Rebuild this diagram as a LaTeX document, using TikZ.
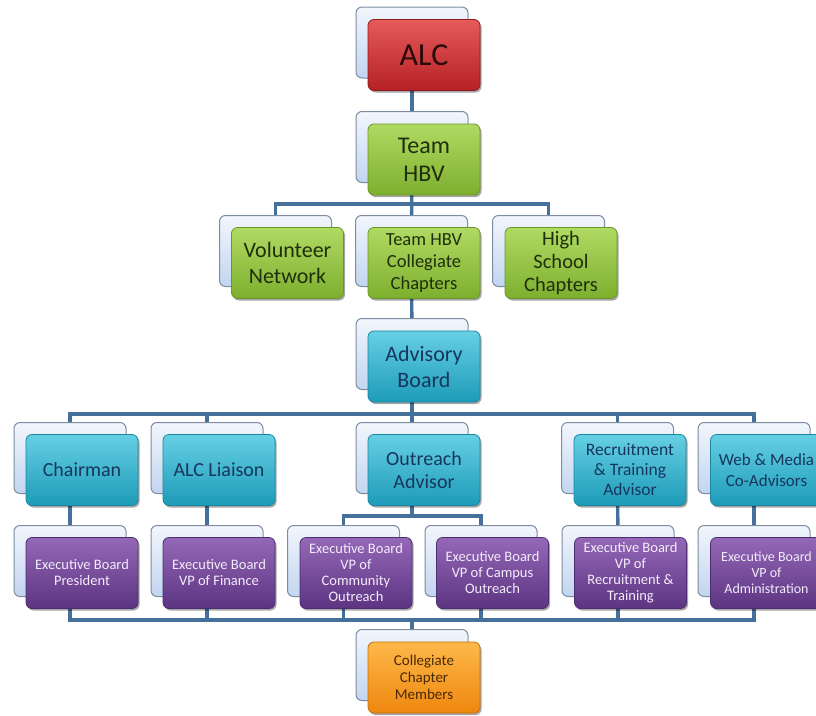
\documentclass[tikz,border=0pt]{standalone}
\usepackage{fontspec}
\setmainfont{Carlito}
\usetikzlibrary{shadows}
\pgfdeclarelayer{bg}
\pgfsetlayers{bg,main}
\definecolor{connc}{HTML}{46709C}
\definecolor{backtop}{HTML}{F2F6FC}
\definecolor{backbot}{HTML}{C2D5F0}
\definecolor{backedge}{HTML}{7D8CA3}
\definecolor{redtop}{HTML}{E65A5A}
\definecolor{redbot}{HTML}{B52126}
\definecolor{rededge}{HTML}{8E1A1E}
\definecolor{redtxt}{HTML}{2B0A0A}
\definecolor{greentop}{HTML}{B0DA62}
\definecolor{greenbot}{HTML}{7DAF2E}
\definecolor{greenedge}{HTML}{6A9628}
\definecolor{greentxt}{HTML}{1F2E0C}
\definecolor{tealtop}{HTML}{66CFE4}
\definecolor{tealbot}{HTML}{1D9BB8}
\definecolor{tealedge}{HTML}{1A87A2}
\definecolor{tealtxt}{HTML}{17365D}
\definecolor{purptop}{HTML}{9468B6}
\definecolor{purpbot}{HTML}{5C3482}
\definecolor{purpedge}{HTML}{4E2C70}
\definecolor{purptxt}{HTML}{F3ECFA}
\definecolor{orantop}{HTML}{FDB84A}
\definecolor{oranbot}{HTML}{EF870E}
\definecolor{oranedge}{HTML}{C9700B}
\definecolor{orantxt}{HTML}{4A2A05}
\begin{document}
\begin{tikzpicture}[x=1pt,y=-1pt,
  backbox/.style={draw=backedge, line width=1pt, rounded corners=6pt,
    minimum width=112pt, minimum height=71pt, inner sep=0pt,
    top color=backtop, bottom color=backbot},
  frontbox/.style={rounded corners=6pt, minimum width=112pt, minimum height=71pt,
    inner sep=0pt, align=center, line width=0.8pt,
    drop shadow={shadow xshift=1.5pt, shadow yshift=-2pt, opacity=0.35, fill=black}},
  redbox/.style={frontbox, draw=rededge, top color=redtop, bottom color=redbot, text=redtxt},
  greenbox/.style={frontbox, draw=greenedge, top color=greentop, bottom color=greenbot, text=greentxt},
  tealbox/.style={frontbox, draw=tealedge, top color=tealtop, bottom color=tealbot, text=tealtxt},
  purpbox/.style={frontbox, draw=purpedge, top color=purptop, bottom color=purpbot, text=purptxt,
    font=\fontsize{14.5}{16}\selectfont},
  oranbox/.style={frontbox, draw=oranedge, top color=orantop, bottom color=oranbot, text=orantxt,
    font=\fontsize{15}{17}\selectfont},
  conn/.style={draw=connc, line width=3.4pt}
]
\useasboundingbox (0,0) rectangle (816,715);
% back boxes
\node[backbox] (alcB) at (412,42.5) {};
\node[backbox] (hbvB) at (412,147) {};
\node[backbox] (volB) at (275.5,251) {};
\node[backbox] (collB) at (411.5,251) {};
\node[backbox] (hsB) at (548.5,251) {};
\node[backbox] (advB) at (412,354) {};
\node[backbox] (chairB) at (70,458) {};
\node[backbox] (liaisonB) at (207,458) {};
\node[backbox] (outB) at (412,458) {};
\node[backbox] (recB) at (617.5,458) {};
\node[backbox] (webB) at (754,458) {};
\node[backbox] (presB) at (70,561) {};
\node[backbox] (finB) at (207,561) {};
\node[backbox] (commB) at (343.5,561) {};
\node[backbox] (campB) at (481,561) {};
\node[backbox] (rtrB) at (618,561) {};
\node[backbox] (adminB) at (754,561) {};
\node[backbox] (memB) at (412,665) {};
% bus coordinates
\coordinate (bus1) at (0,204);
\coordinate (bus2) at (0,414);
\coordinate (bus3) at (0,516);
\coordinate (bus4) at (0,620);
% front boxes
\node[redbox, font=\fontsize{32}{36}\selectfont] (alc) at ([shift={(12,12.5)}]alcB.center) {ALC};
\node[greenbox, font=\fontsize{24}{28}\selectfont] (hbv) at ([shift={(12,12.5)}]hbvB.center) {Team\\HBV};
\node[greenbox, font=\fontsize{22}{26}\selectfont] (vol) at ([shift={(12,12)}]volB.center) {Volunteer\\Network};
\node[greenbox, font=\fontsize{18.5}{22}\selectfont] (coll) at ([shift={(12.5,12)}]collB.center) {Team HBV\\Collegiate\\Chapters};
\node[greenbox, font=\fontsize{20.5}{23}\selectfont] (hs) at ([shift={(12.5,12)}]hsB.center) {High\\School\\Chapters};
\node[tealbox, font=\fontsize{22}{26}\selectfont] (adv) at ([shift={(12,12.5)}]advB.center) {Advisory\\Board};
\node[tealbox, font=\fontsize{20}{24}\selectfont] (chair) at ([shift={(12,12)}]chairB.center) {Chairman};
\node[tealbox, font=\fontsize{20}{24}\selectfont] (liaison) at ([shift={(12,12)}]liaisonB.center) {ALC Liaison};
\node[tealbox, font=\fontsize{20}{23}\selectfont] (out) at ([shift={(12,12)}]outB.center) {Outreach\\Advisor};
\node[tealbox, font=\fontsize{17.5}{20}\selectfont] (rec) at ([shift={(12.5,12)}]recB.center) {Recruitment\\\&~Training\\Advisor};
\node[tealbox, font=\fontsize{17}{21}\selectfont] (web) at ([shift={(12.5,12)}]webB.center) {Web \& Media\\Co-Advisors};
\node[purpbox] (pres) at ([shift={(12,12)}]presB.center) {Executive Board\\President};
\node[purpbox] (fin) at ([shift={(12,12)}]finB.center) {Executive Board\\VP of Finance};
\node[purpbox] (comm) at ([shift={(12.5,12)}]commB.center) {Executive Board\\VP of\\Community\\Outreach};
\node[purpbox] (camp) at ([shift={(11.5,12)}]campB.center) {Executive Board\\VP of Campus\\Outreach};
\node[purpbox] (rtr) at ([shift={(12.5,12)}]rtrB.center) {Executive Board\\VP of\\Recruitment \&\\Training};
\node[purpbox, font=\fontsize{14}{16}\selectfont] (admin) at ([shift={(12.5,12)}]adminB.center) {Executive Board\\VP of\\Administration};
\node[oranbox] (mem) at ([shift={(12,12.5)}]memB.center) {Collegiate\\Chapter\\Members};
% connectors
\begin{pgfonlayer}{bg}
\fill[white] (0,0) rectangle (816,715);
\draw[conn] (alcB.center) -- (hbvB.center);
\draw[conn] (hbvB.center) -- (collB.center);
\draw[conn] (volB.center) |- (bus1 -| hsB.center) -- (hsB.center);
\draw[conn] (collB.center) -- (advB.center);
\draw[conn] (advB.center) -- (outB.center);
\draw[conn] (chairB.center) |- (bus2 -| webB.center) -- (webB.center);
\draw[conn] (liaisonB.center) -- (liaisonB.center |- bus2);
\draw[conn] (recB.center) -- (recB.center |- bus2);
\draw[conn] (outB.center) -- (outB.center |- bus3);
\draw[conn] (commB.center) |- (bus3 -| campB.center) -- (campB.center);
\draw[conn] (chairB.center) -- (presB.center);
\draw[conn] (liaisonB.center) -- (finB.center);
\draw[conn] (recB.center) -- (rtrB.center);
\draw[conn] (webB.center) -- (adminB.center);
\draw[conn] (presB.center) |- (bus4 -| adminB.center) -- (adminB.center);
\draw[conn] (finB.center) -- (finB.center |- bus4);
\draw[conn] (commB.center) -- (commB.center |- bus4);
\draw[conn] (campB.center) -- (campB.center |- bus4);
\draw[conn] (rtrB.center) -- (rtrB.center |- bus4);
\draw[conn] (memB.center) -- (memB.center |- bus4);
\end{pgfonlayer}
\end{tikzpicture}
\end{document}
